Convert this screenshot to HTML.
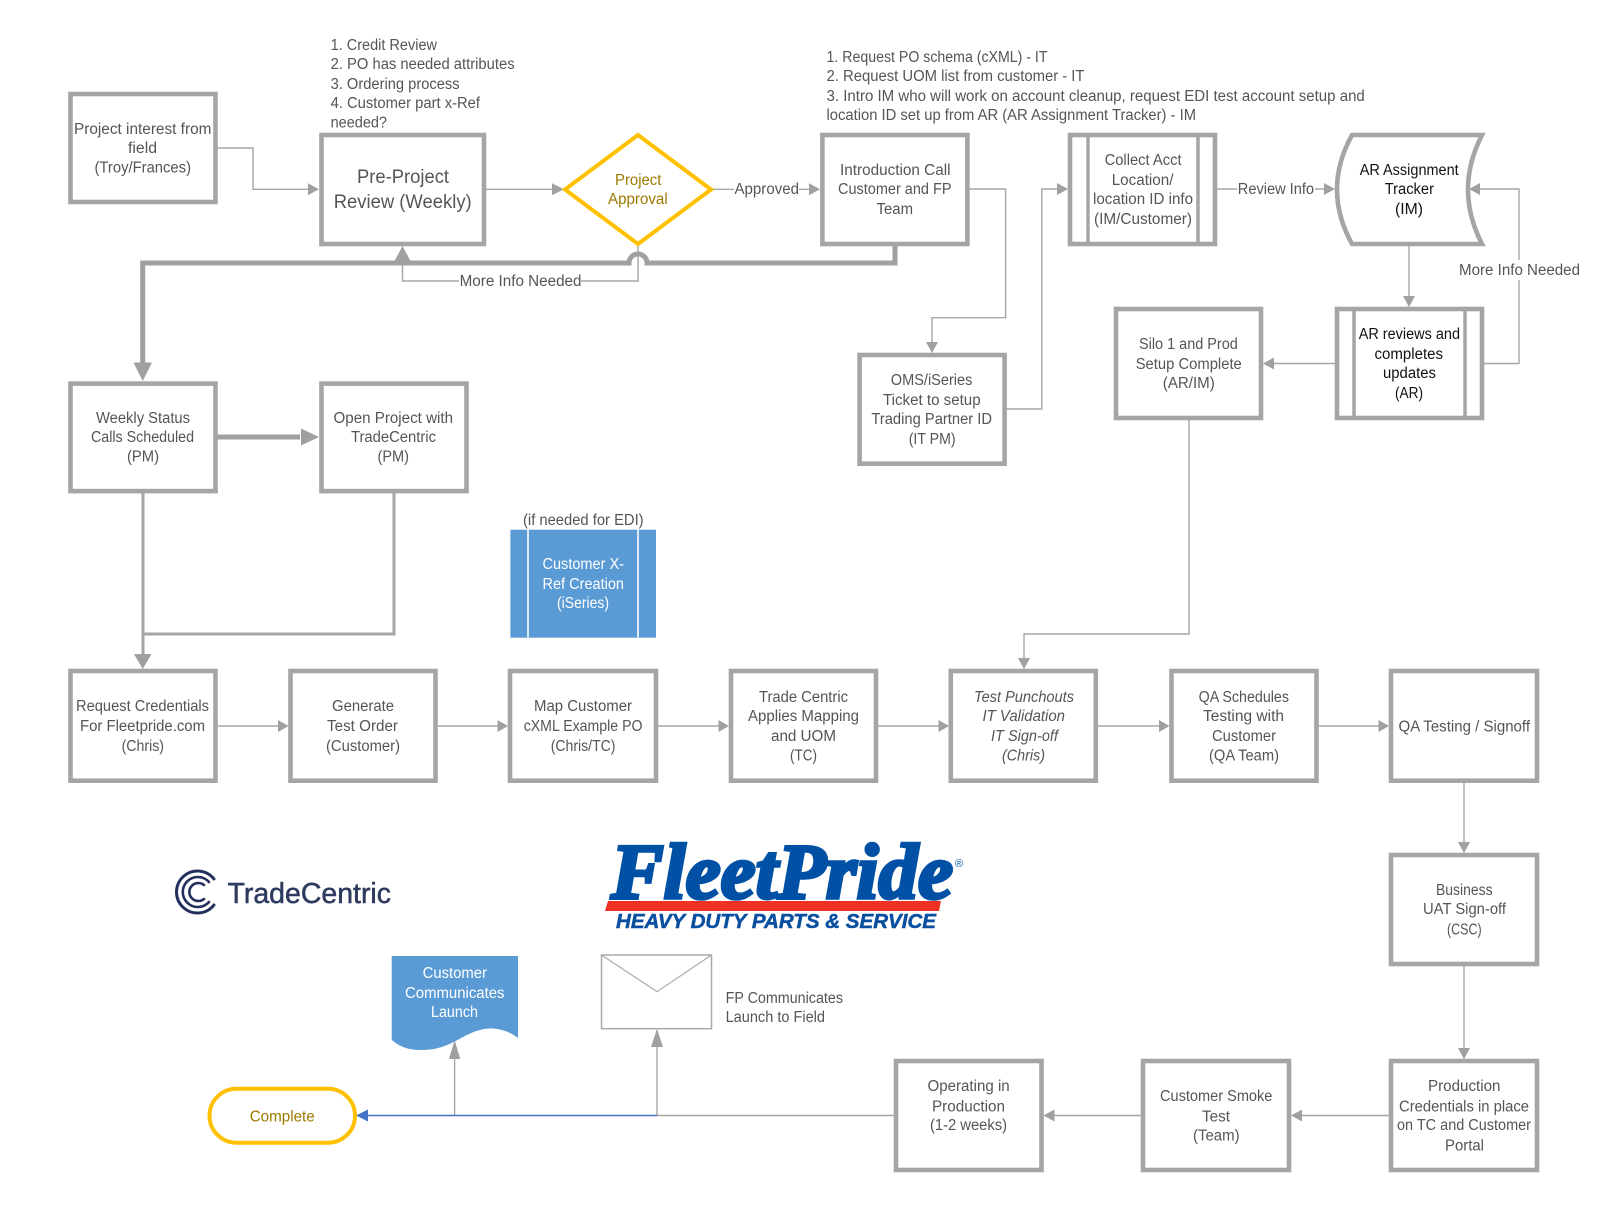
<!DOCTYPE html>
<html><head><meta charset="utf-8"><style>
html,body{margin:0;padding:0;background:#fff}
svg{display:block}
text{font-family:"Liberation Sans",sans-serif;font-size:15.5px;fill:#555}
.b{fill:#fff;stroke:#a5a5a5;stroke-width:4.6}
.l{fill:none;stroke:#a5a5a5;stroke-width:1.4}
.a{fill:#a0a0a0}
.g text,text.g{fill:#9c7a00}
.w text{fill:#fff}
.k text{fill:#111}
</style></head><body>
<svg width="1604" height="1230" viewBox="0 0 1604 1230" xmlns="http://www.w3.org/2000/svg">
<!-- thin connectors -->
<path class="l" d="M216 148H253V189.3H310"/>
<path class="l" d="M486 189.3H555"/>
<path class="l" d="M713 189.3H734M799 189.3H811"/>
<path class="l" d="M638 246V281H581M459 281H402.5V258"/>
<path class="l" d="M969 189H1005.6V317.7H932V344"/>
<path class="l" d="M1006 409H1041.8V189H1059"/>
<path class="l" d="M1217 189H1237M1315 189H1326"/>
<path class="l" d="M1409 246V298"/>
<path class="l" d="M1484 363.5H1519V280M1519 260V189H1480"/>
<path class="l" d="M1335 363.5H1274"/>
<path class="l" d="M1189 420V634H1024V660"/>
<path class="l" d="M217 726H280M438 726H500M658 726H720M878 726H940M1098 726H1160M1318 726H1380" style="stroke-width:1.7;stroke:#b5b5b5"/>
<path class="l" d="M1464 782V844M1464 965V1050"/>
<path class="l" d="M1389 1115.5H1301M1141 1115.5H1054M894 1115.5H657"/>
<path class="l" d="M454.6 1115.5V1055M657 1115.5V1044"/>
<path d="M657 1115.5H366" fill="none" stroke="#4472c4" stroke-width="1.6"/>
<!-- thick connectors -->
<path d="M895 246V263H647A9 9 0 0 0 629 263H142.7V366" fill="none" stroke="#a0a0a0" stroke-width="5"/>
<path d="M217 437H300" fill="none" stroke="#a0a0a0" stroke-width="5"/>
<path d="M143 493V656M394 493V634H143" fill="none" stroke="#a5a5a5" stroke-width="3"/>
<!-- arrowheads -->
<polygon class="a" points="319,189.3 308,183.3 308,195.3"/>
<polygon class="a" points="564,189.3 552,183.3 552,195.3"/>
<polygon class="a" points="820,189.3 809,183.3 809,195.3"/>
<polygon class="a" points="402.5,246 394.5,261 410.5,261"/>
<polygon class="a" points="142.7,381 133.5,362.5 152,362.5"/>
<polygon class="a" points="319,437 301,428.5 301,445.5"/>
<polygon class="a" points="932,353 926,342 938,342"/>
<polygon class="a" points="1068,189 1057,183 1057,195"/>
<polygon class="a" points="1335,189 1324,183 1324,195"/>
<polygon class="a" points="1469,189 1480,183 1480,195"/>
<polygon class="a" points="1409,307 1403,296 1415,296"/>
<polygon class="a" points="1263,363.5 1274,357.5 1274,369.5"/>
<polygon class="a" points="1024,669 1018,658 1030,658"/>
<polygon class="a" points="142.7,669 134,654 151.5,654"/>
<polygon class="a" points="288.5,726 278,720 278,732"/>
<polygon class="a" points="508,726 497.5,720 497.5,732"/>
<polygon class="a" points="729,726 718.5,720 718.5,732"/>
<polygon class="a" points="949,726 938.5,720 938.5,732"/>
<polygon class="a" points="1169.5,726 1159,720 1159,732"/>
<polygon class="a" points="1389,726 1378.5,720 1378.5,732"/>
<polygon class="a" points="1464,853 1458,842 1470,842"/>
<polygon class="a" points="1464,1059 1458,1048 1470,1048"/>
<polygon class="a" points="1291,1115.5 1302,1109.5 1302,1121.5"/>
<polygon class="a" points="1043.5,1115.5 1054.5,1109.5 1054.5,1121.5"/>
<polygon class="a" points="454.6,1040 449,1059 460.2,1059"/>
<polygon class="a" points="657,1028.7 651,1047 663,1047"/>
<polygon points="356,1115.5 368,1109.5 368,1121.5" fill="#4472c4"/>
<!-- boxes -->
<rect class="b" x="70.5" y="94" width="145" height="108"/>
<rect class="b" x="321.5" y="135" width="162.5" height="109"/>
<polygon points="638,135 711,189.5 638,244 565,189.5" fill="#fff" stroke="#ffc000" stroke-width="4"/>
<rect class="b" x="822.4" y="135" width="145" height="109"/>
<rect class="b" x="1070" y="135" width="145" height="109"/>
<path class="b" d="M1088 133V246M1198 133V246" style="stroke-width:3.5"/>
<path class="b" d="M1352 135H1482Q1454 189.5 1482 244H1352Q1322 189.5 1352 135Z"/>
<rect class="b" x="1116" y="309" width="145" height="109"/>
<rect class="b" x="1337" y="309" width="145" height="109"/>
<path class="b" d="M1354 307V420M1465 307V420" style="stroke-width:3.5"/>
<rect class="b" x="859.6" y="355" width="145" height="108.7"/>
<rect class="b" x="70.5" y="383.6" width="145" height="107.5"/>
<rect class="b" x="321.5" y="383.6" width="145" height="107.5"/>
<rect x="510.4" y="529.7" width="145.6" height="108" fill="#5b9bd5"/>
<path d="M528 529.7V637.7M638 529.7V637.7" stroke="#fff" stroke-width="1.6" fill="none"/>
<rect class="b" x="70.5" y="671" width="145" height="109.7"/>
<rect class="b" x="290.5" y="671" width="145" height="109.7"/>
<rect class="b" x="510" y="671" width="146" height="109.7"/>
<rect class="b" x="731" y="671" width="145" height="109.7"/>
<rect class="b" x="950.8" y="671" width="145" height="109.7"/>
<rect class="b" x="1171.5" y="671" width="145" height="109.7"/>
<rect class="b" x="1391" y="671" width="146" height="109.7"/>
<rect class="b" x="1391" y="855" width="146" height="109"/>
<rect class="b" x="1391" y="1061" width="146" height="109"/>
<rect class="b" x="1143" y="1061" width="146" height="109"/>
<rect class="b" x="896" y="1061" width="145.5" height="109"/>
<rect x="209.5" y="1088.7" width="145.5" height="54" rx="27" fill="#fff" stroke="#ffc000" stroke-width="4"/>
<path d="M391.7 956H518V1038C505 1028 490 1027 480 1030C460 1035 450 1050 421 1050C405 1050 398 1045 391.7 1040Z" fill="#5b9bd5"/>
<rect x="601.5" y="955" width="110" height="73.7" fill="#fff" stroke="#aaa" stroke-width="1.5"/>
<path d="M601.5 955L657 991.7L711.5 955" fill="none" stroke="#aaa" stroke-width="1.2"/>
<!-- annotation text -->
<text x="330.6" y="50" textLength="106.4" lengthAdjust="spacingAndGlyphs">1. Credit Review</text>
<text x="330.6" y="69" textLength="184" lengthAdjust="spacingAndGlyphs">2. PO has needed attributes</text>
<text x="330.6" y="89" textLength="129" lengthAdjust="spacingAndGlyphs">3. Ordering process</text>
<text x="330.6" y="108" textLength="149.4" lengthAdjust="spacingAndGlyphs">4. Customer part x-Ref</text>
<text x="330.6" y="127.7" textLength="56.4" lengthAdjust="spacingAndGlyphs">needed?</text>
<text x="826.5" y="62" textLength="221" lengthAdjust="spacingAndGlyphs">1. Request PO schema (cXML) - IT</text>
<text x="826.5" y="81" textLength="258" lengthAdjust="spacingAndGlyphs">2. Request UOM list from customer - IT</text>
<text x="826.5" y="101" textLength="538.3" lengthAdjust="spacingAndGlyphs">3. Intro IM who will work on account cleanup, request EDI test account setup and</text>
<text x="826.5" y="120" textLength="369.5" lengthAdjust="spacingAndGlyphs">location ID set up from AR (AR Assignment Tracker) - IM</text>
<!-- box text -->
<text x="74" y="134" textLength="137.4" lengthAdjust="spacingAndGlyphs">Project interest from</text>
<text x="128" y="153" textLength="29" lengthAdjust="spacingAndGlyphs">field</text>
<text x="94.5" y="172.7" textLength="96.5" lengthAdjust="spacingAndGlyphs">(Troy/Frances)</text>
<text x="357" y="183" textLength="92" lengthAdjust="spacingAndGlyphs" style="font-size:19px">Pre-Project</text>
<text x="333.7" y="208" textLength="138" lengthAdjust="spacingAndGlyphs" style="font-size:19px">Review (Weekly)</text>
<g class="g">
<text x="615" y="185" textLength="46.4" lengthAdjust="spacingAndGlyphs">Project</text>
<text x="608" y="204" textLength="59.7" lengthAdjust="spacingAndGlyphs">Approval</text>
<text x="249.7" y="1121.7" textLength="65" lengthAdjust="spacingAndGlyphs">Complete</text>
</g>
<text x="459.6" y="286" textLength="121.9" lengthAdjust="spacingAndGlyphs">More Info Needed</text>
<text x="734.5" y="194" textLength="64.5" lengthAdjust="spacingAndGlyphs">Approved</text>
<text x="840" y="175" textLength="110.5" lengthAdjust="spacingAndGlyphs">Introduction Call</text>
<text x="838" y="194" textLength="113.5" lengthAdjust="spacingAndGlyphs">Customer and FP</text>
<text x="876.5" y="214" textLength="36.5" lengthAdjust="spacingAndGlyphs">Team</text>
<text x="1104.6" y="165" textLength="77" lengthAdjust="spacingAndGlyphs">Collect Acct</text>
<text x="1111.7" y="185" textLength="61.8" lengthAdjust="spacingAndGlyphs">Location/</text>
<text x="1093" y="204" textLength="100" lengthAdjust="spacingAndGlyphs">location ID info</text>
<text x="1094" y="224" textLength="98" lengthAdjust="spacingAndGlyphs">(IM/Customer)</text>
<text x="1237.8" y="194" textLength="76.2" lengthAdjust="spacingAndGlyphs">Review Info</text>
<g class="k">
<text x="1359.7" y="175" textLength="99" lengthAdjust="spacingAndGlyphs">AR Assignment</text>
<text x="1384.7" y="194" textLength="49.3" lengthAdjust="spacingAndGlyphs">Tracker</text>
<text x="1395" y="214" textLength="28" lengthAdjust="spacingAndGlyphs">(IM)</text>
<text x="1358.7" y="339" textLength="101.3" lengthAdjust="spacingAndGlyphs">AR reviews and</text>
<text x="1374.5" y="359" textLength="68.5" lengthAdjust="spacingAndGlyphs">completes</text>
<text x="1383" y="378" textLength="53" lengthAdjust="spacingAndGlyphs">updates</text>
<text x="1395" y="398" textLength="28" lengthAdjust="spacingAndGlyphs">(AR)</text>
</g>
<text x="1459" y="275" textLength="121" lengthAdjust="spacingAndGlyphs">More Info Needed</text>
<text x="890.8" y="385" textLength="81.6" lengthAdjust="spacingAndGlyphs">OMS/iSeries</text>
<text x="883" y="405" textLength="97.6" lengthAdjust="spacingAndGlyphs">Ticket to setup</text>
<text x="871.4" y="424" textLength="120.6" lengthAdjust="spacingAndGlyphs">Trading Partner ID</text>
<text x="908.7" y="444" textLength="46.9" lengthAdjust="spacingAndGlyphs">(IT PM)</text>
<text x="1139" y="349" textLength="98.8" lengthAdjust="spacingAndGlyphs">Silo 1 and Prod</text>
<text x="1135.7" y="369" textLength="106.1" lengthAdjust="spacingAndGlyphs">Setup Complete</text>
<text x="1162.8" y="388" textLength="52" lengthAdjust="spacingAndGlyphs">(AR/IM)</text>
<text x="96" y="423" textLength="94" lengthAdjust="spacingAndGlyphs">Weekly Status</text>
<text x="91" y="442" textLength="103" lengthAdjust="spacingAndGlyphs">Calls Scheduled</text>
<text x="127" y="461.5" textLength="32" lengthAdjust="spacingAndGlyphs">(PM)</text>
<text x="333.5" y="423" textLength="119.5" lengthAdjust="spacingAndGlyphs">Open Project with</text>
<text x="351" y="442" textLength="85" lengthAdjust="spacingAndGlyphs">TradeCentric</text>
<text x="377.5" y="461.5" textLength="31.5" lengthAdjust="spacingAndGlyphs">(PM)</text>
<text x="523" y="525" textLength="120.6" lengthAdjust="spacingAndGlyphs">(if needed for EDI)</text>
<g class="w">
<text x="542.5" y="569" textLength="81.5" lengthAdjust="spacingAndGlyphs">Customer X-</text>
<text x="542.5" y="589" textLength="81.5" lengthAdjust="spacingAndGlyphs">Ref Creation</text>
<text x="557" y="608" textLength="52" lengthAdjust="spacingAndGlyphs">(iSeries)</text>
<text x="422.6" y="978" textLength="64.4" lengthAdjust="spacingAndGlyphs">Customer</text>
<text x="405" y="998" textLength="99.5" lengthAdjust="spacingAndGlyphs">Communicates</text>
<text x="431" y="1017" textLength="47" lengthAdjust="spacingAndGlyphs">Launch</text>
</g>
<text x="76" y="711" textLength="133" lengthAdjust="spacingAndGlyphs">Request Credentials</text>
<text x="80" y="731" textLength="125" lengthAdjust="spacingAndGlyphs">For Fleetpride.com</text>
<text x="121.6" y="751" textLength="42.4" lengthAdjust="spacingAndGlyphs">(Chris)</text>
<text x="332" y="711" textLength="62" lengthAdjust="spacingAndGlyphs">Generate</text>
<text x="327" y="731" textLength="71" lengthAdjust="spacingAndGlyphs">Test Order</text>
<text x="326" y="751" textLength="74" lengthAdjust="spacingAndGlyphs">(Customer)</text>
<text x="534" y="711" textLength="98" lengthAdjust="spacingAndGlyphs">Map Customer</text>
<text x="523.7" y="731" textLength="118.8" lengthAdjust="spacingAndGlyphs">cXML Example PO</text>
<text x="550.7" y="751" textLength="64.8" lengthAdjust="spacingAndGlyphs">(Chris/TC)</text>
<text x="759" y="702" textLength="89" lengthAdjust="spacingAndGlyphs">Trade Centric</text>
<text x="748" y="721" textLength="111" lengthAdjust="spacingAndGlyphs">Applies Mapping</text>
<text x="771" y="741" textLength="65" lengthAdjust="spacingAndGlyphs">and UOM</text>
<text x="790" y="760.3" textLength="27" lengthAdjust="spacingAndGlyphs">(TC)</text>
<g font-style="italic">
<text x="974" y="702" textLength="100" lengthAdjust="spacingAndGlyphs">Test Punchouts</text>
<text x="982.5" y="721" textLength="82.5" lengthAdjust="spacingAndGlyphs">IT Validation</text>
<text x="991" y="741" textLength="67" lengthAdjust="spacingAndGlyphs">IT Sign-off</text>
<text x="1002" y="760.3" textLength="43" lengthAdjust="spacingAndGlyphs">(Chris)</text>
</g>
<text x="1198.6" y="702" textLength="90.4" lengthAdjust="spacingAndGlyphs">QA Schedules</text>
<text x="1203" y="721" textLength="81" lengthAdjust="spacingAndGlyphs">Testing with</text>
<text x="1212" y="741" textLength="64" lengthAdjust="spacingAndGlyphs">Customer</text>
<text x="1209" y="760.3" textLength="70" lengthAdjust="spacingAndGlyphs">(QA Team)</text>
<text x="1398.5" y="731.4" textLength="131.5" lengthAdjust="spacingAndGlyphs">QA Testing / Signoff</text>
<text x="1436" y="895" textLength="56.6" lengthAdjust="spacingAndGlyphs">Business</text>
<text x="1423" y="914" textLength="83" lengthAdjust="spacingAndGlyphs">UAT Sign-off</text>
<text x="1447" y="934.6" textLength="34.6" lengthAdjust="spacingAndGlyphs">(CSC)</text>
<text x="1428" y="1091.2" textLength="72.5" lengthAdjust="spacingAndGlyphs">Production</text>
<text x="1399" y="1111.4" textLength="130" lengthAdjust="spacingAndGlyphs">Credentials in place</text>
<text x="1397" y="1130" textLength="134" lengthAdjust="spacingAndGlyphs">on TC and Customer</text>
<text x="1445" y="1150.7" textLength="39" lengthAdjust="spacingAndGlyphs">Portal</text>
<text x="1160" y="1101.2" textLength="112.4" lengthAdjust="spacingAndGlyphs">Customer Smoke</text>
<text x="1202" y="1121.4" textLength="28" lengthAdjust="spacingAndGlyphs">Test</text>
<text x="1193" y="1140.7" textLength="46.6" lengthAdjust="spacingAndGlyphs">(Team)</text>
<text x="927.5" y="1091.2" textLength="82.2" lengthAdjust="spacingAndGlyphs">Operating in</text>
<text x="932" y="1111.4" textLength="73" lengthAdjust="spacingAndGlyphs">Production</text>
<text x="930" y="1130" textLength="77" lengthAdjust="spacingAndGlyphs">(1-2 weeks)</text>
<text x="725.6" y="1003" textLength="117.4" lengthAdjust="spacingAndGlyphs">FP Communicates</text>
<text x="725.6" y="1022" textLength="99.4" lengthAdjust="spacingAndGlyphs">Launch to Field</text>
<!-- TradeCentric logo -->
<g fill="none" stroke="#232f5c" stroke-linecap="round">
<path d="M214 879A21 21 0 1 0 214 905" stroke-width="3"/>
<path d="M209 882A15 15 0 1 0 209 902" stroke-width="2.6"/>
<path d="M204 885A9 9 0 1 0 204 899" stroke-width="2.6"/>
</g>
<text x="227.5" y="903" textLength="163.5" lengthAdjust="spacingAndGlyphs" style="font-size:29px;fill:#2f3a5f;stroke:#2f3a5f;stroke-width:.5">TradeCentric</text>
<!-- FleetPride logo -->
<text x="611" y="898" textLength="342" lengthAdjust="spacingAndGlyphs" style="font-family:'Liberation Serif',serif;font-weight:bold;font-style:italic;font-size:78px;fill:#0050a5;stroke:#0050a5;stroke-width:3.5">FleetPride</text>
<polygon points="608,901 941,901 939,911 605,911" fill="#ef3124"/>
<text x="616" y="928" textLength="320" lengthAdjust="spacingAndGlyphs" style="font-weight:bold;font-style:italic;font-size:20px;fill:#0a4fa0;stroke:#0a4fa0;stroke-width:.5">HEAVY DUTY PARTS &amp; SERVICE</text>
<text x="955" y="867" style="font-size:11px;fill:#0050a5">®</text>
</svg>
</body></html>
